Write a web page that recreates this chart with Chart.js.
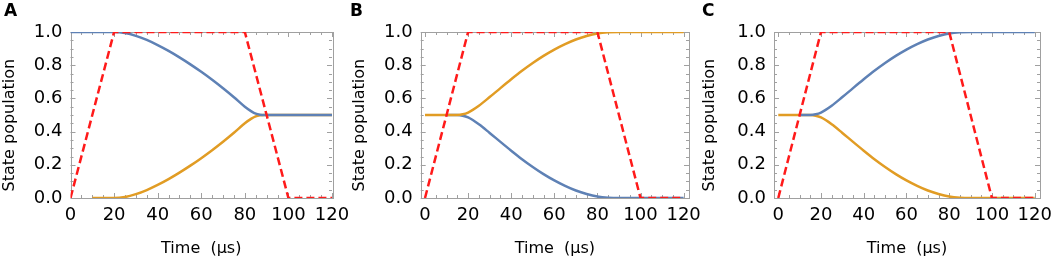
<!DOCTYPE html>
<html><head><meta charset="utf-8">
<script src="https://cdn.jsdelivr.net/npm/chart.js@4.4.1/dist/chart.umd.min.js"></script>
<style>
html,body{margin:0;padding:0;background:#fff;}
#wrap{position:relative;width:1052px;height:258px;overflow:hidden;background:#fff;}
canvas{position:absolute;top:0;}
</style></head><body>
<div id="wrap">
<canvas id="cA" width="350" height="258" style="left:0px"></canvas>
<canvas id="cB" width="350" height="258" style="left:350px"></canvas>
<canvas id="cC" width="352" height="258" style="left:700px"></canvas>
</div>
<script>
// ---- tick values / labels ----
const xTickValues = [0, 20, 40, 60, 80, 100, 120];
const xTickLabels = ['0', '20', '40', '60', '80', '100', '120'];
const yTickValues = [0, 0.2, 0.4, 0.6, 0.8, 1.0];
const yTickLabels = ['0.0', '0.2', '0.4', '0.6', '0.8', '1.0'];

// ---- pulse (red dashed) ----
const pulseTime  = [0, 20, 80, 100, 120];
const pulseValue = [0, 1, 1, 0, 0];

// ---- panel A ----
const timeA_blue = [0,10,20,25,30,35,40,45,50,55,60,65,70,75,80,83,85,87,89,95,100,110,120];
const popA_blue  = [1,1,1,0.994,0.977,0.952,0.921,0.886,0.847,0.805,0.76,0.712,0.661,0.607,0.55,0.522,0.508,0.502,0.5,0.5,0.5,0.5,0.5];
const timeA_orange = [10,20,25,30,35,40,45,50,55,60,65,70,75,80,83,85,87,89,95,100,110,120];
const popA_orange  = [0,0,0.006,0.023,0.048,0.079,0.114,0.153,0.195,0.24,0.288,0.339,0.393,0.45,0.478,0.492,0.498,0.5,0.5,0.5,0.5,0.5];

// ---- panel B ----
const timeB_orange = [0,10,15,17.5,20,25,30,35,40,45,50,55,60,65,70,75,80,85,90,100,110,120];
const popB_orange  = [0.5,0.5,0.5,0.504,0.515,0.556,0.608,0.662,0.715,0.766,0.813,0.856,0.894,0.927,0.955,0.976,0.991,0.998,1,1,1,1];
const timeB_blue = [10,15,17.5,20,25,30,35,40,45,50,55,60,65,70,75,80,85,90,100,110,120];
const popB_blue  = [0.5,0.5,0.496,0.485,0.444,0.392,0.338,0.285,0.234,0.187,0.144,0.106,0.073,0.045,0.024,0.009,0.002,0,0,0,0];

// ---- panel C ----
const timeC_orange = [0,10,15,17.5,20,25,30,35,40,45,50,55,60,65,70,75,80,85,90,100,110,120];
const popC_orange  = [0.5,0.5,0.5,0.496,0.485,0.444,0.392,0.338,0.285,0.234,0.187,0.144,0.106,0.073,0.045,0.024,0.009,0.002,0,0,0,0];
const timeC_blue = [10,15,17.5,20,25,30,35,40,45,50,55,60,65,70,75,80,85,90,100,110,120];
const popC_blue  = [0.5,0.5,0.504,0.515,0.556,0.608,0.662,0.715,0.766,0.813,0.856,0.894,0.927,0.955,0.976,0.991,0.998,1,1,1,1];

const FONT = "'DejaVu Sans', sans-serif";
const BLUE = '#5E81B5', ORANGE = '#E19C24', RED = '#FF1A1A', FRAME = '#a0a0a0';

function pts(t, v) { return t.map((x, i) => ({ x: x, y: v[i] })); }

const framePlugin = {
  id: 'frameTicks',
  beforeDatasetsDraw(chart) {
    const { ctx, chartArea: a, scales: { x, y } } = chart;
    ctx.save();
    ctx.strokeStyle = FRAME;
    ctx.lineWidth = 1;
    ctx.strokeRect(Math.round(a.left) + 0.5, Math.round(a.top) + 0.5,
                   Math.round(a.right - a.left), Math.round(a.bottom - a.top));
    ctx.beginPath();
    for (let v = 0; v <= 120.001; v += 5) {
      const px = Math.round(x.getPixelForValue(v)) + 0.5;
      const len = (Math.abs(v % 20) < 1e-6) ? 5 : 3;
      ctx.moveTo(px, a.bottom); ctx.lineTo(px, a.bottom - len);
      ctx.moveTo(px, a.top); ctx.lineTo(px, a.top + len);
    }
    for (let k = 0; k <= 20; k++) {
      const v = k * 0.05;
      const py = Math.round(y.getPixelForValue(v)) + 0.5;
      const len = (k % 4 === 0) ? 5 : 3;
      ctx.moveTo(a.left, py); ctx.lineTo(a.left + len, py);
      ctx.moveTo(a.right, py); ctx.lineTo(a.right - len, py);
    }
    ctx.stroke();
    ctx.restore();
  }
};

function makePanel(id, letter, W, padL, xMin, xMax, L, R, curves) {
  const tickFont = { family: FONT, size: 18 };
  const titleFont = { family: FONT, size: 16 };
  const datasets = [{
    label: 'pulse', data: pts(pulseTime, pulseValue), borderColor: RED, borderWidth: 2.5,
    borderDash: [8, 4], pointRadius: 0, tension: 0, fill: false
  }].concat(curves.map(c => ({
    label: c.label, data: pts(c.t, c.v), borderColor: c.color, borderWidth: 2.5,
    pointRadius: 0, cubicInterpolationMode: 'monotone', fill: false
  })));
  return new Chart(document.getElementById(id), {
    type: 'line',
    data: { datasets },
    options: {
      responsive: false, animation: false, devicePixelRatio: 1,
      layout: { padding: { left: padL, right: W - R, top: 0, bottom: 0 } },
      plugins: {
        legend: { display: false }, tooltip: { enabled: false },
        title: { display: true, text: letter, align: 'start', color: '#000',
                 font: { family: FONT, size: 17, weight: 'bold' }, padding: { top: 1, bottom: 10.6 } }
      },
      scales: {
        x: {
          type: 'linear', min: xMin, max: xMax,
          afterBuildTicks: s => { s.ticks = xTickValues.map(v => ({ value: v })); },
          ticks: { callback: v => xTickLabels[xTickValues.indexOf(v)], font: tickFont, color: '#000', padding: 7, maxRotation: 0, autoSkip: false },
          grid: { display: false, drawTicks: false }, border: { display: false },
          title: { display: true, text: 'Time  (μs)', font: titleFont, color: '#000', padding: { top: 0, bottom: 0 } },
          afterFit: s => { s.height = 60; s.paddingLeft = 0; s.paddingRight = 0; }
        },
        y: {
          type: 'linear', min: 0, max: 1,
          afterBuildTicks: s => { s.ticks = yTickValues.map(v => ({ value: v })); },
          ticks: { callback: v => yTickLabels[yTickValues.indexOf(v)], font: tickFont, color: '#000', padding: 8, autoSkip: false },
          grid: { display: false, drawTicks: false }, border: { display: false },
          title: { display: true, text: 'State population    ', font: titleFont, color: '#000', padding: { top: -padL, bottom: 0 } },
          afterFit: s => { s.width = L - padL; s.paddingTop = 0; s.paddingBottom = 0; }
        }
      }
    },
    plugins: [framePlugin]
  });
}

makePanel('cA', 'A', 350, 4, 0, 120, 70.5, 332, [
  { label: 'blue', t: timeA_blue, v: popA_blue, color: BLUE },
  { label: 'orange', t: timeA_orange, v: popA_orange, color: ORANGE }
]);
makePanel('cB', 'B', 350, 0, -2, 122.5, 70.7, 339, [
  { label: 'orange', t: timeB_orange, v: popB_orange, color: ORANGE },
  { label: 'blue', t: timeB_blue, v: popB_blue, color: BLUE }
]);
makePanel('cC', 'C', 352, 2, -2, 122.5, 74, 340, [
  { label: 'blue', t: timeC_blue, v: popC_blue, color: BLUE },
  { label: 'orange', t: timeC_orange, v: popC_orange, color: ORANGE }
]);
</script>
</body></html>
